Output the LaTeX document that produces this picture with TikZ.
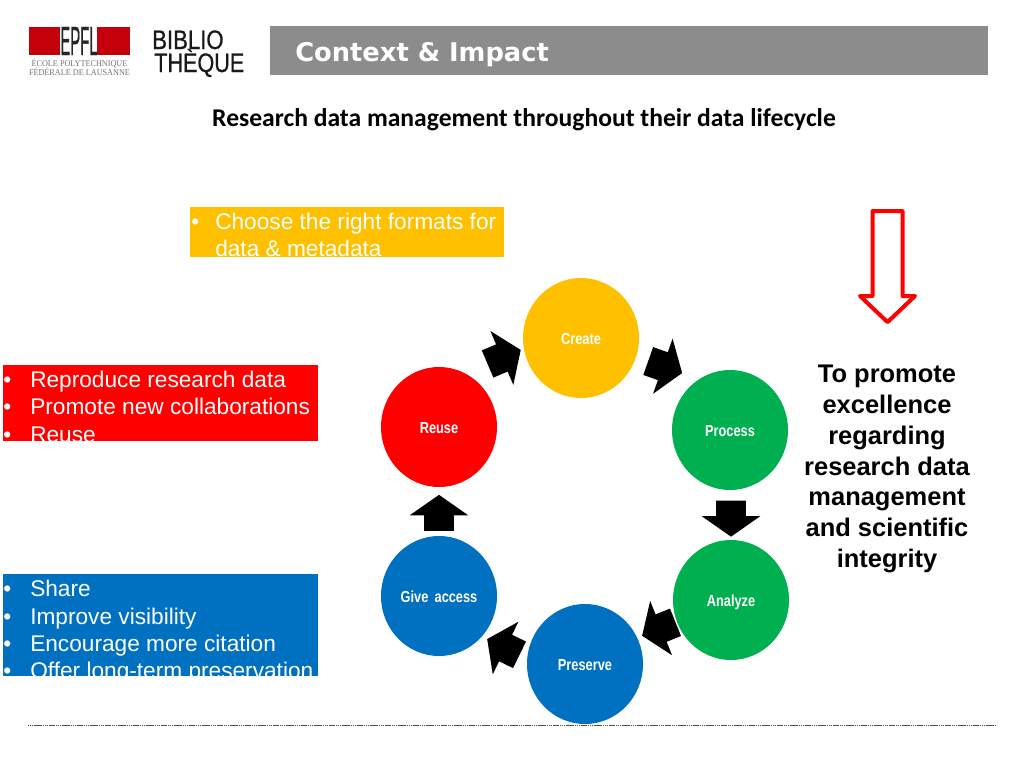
\documentclass[tikz,border=0pt]{standalone}
\usepackage{fontspec}
\usepackage{tikz}
\usetikzlibrary{shapes.arrows,shapes.geometric}
\setmainfont{Liberation Sans}
\newfontfamily\headfont{DejaVu Sans}
\newfontfamily\titlefont{Carlito}
\newfontfamily\logofont[FakeBold=0.8]{Liberation Sans}
\newfontfamily\narrowfont[FakeStretch=0.8]{Liberation Sans}
\newfontfamily\serifnarrow[FakeStretch=0.93]{Liberation Serif}
\definecolor{epflred}{HTML}{C4000B}
\definecolor{headgray}{HTML}{8C8C8C}
\definecolor{stepyellow}{HTML}{FFC000}
\definecolor{stepgreen}{HTML}{00B050}
\definecolor{stepblue}{HTML}{0070C0}
\tikzset{
  stepnode/.style={ellipse,minimum width=116*0.75pt,minimum height=120*0.75pt,inner sep=0pt,text=white,text height=10.5pt,text depth=1pt,font=\narrowfont\bfseries\fontsize{12}{14}\selectfont},
  panel/.style={anchor=north west,inner sep=0pt,outer sep=0pt},
  line/.style={anchor=base west,inner sep=0pt,text=white,font=\fontsize{17}{20}\selectfont},
  blockarrow/.style={single arrow,fill=black,inner sep=0pt,text height=29*0.75pt,text depth=0pt,minimum height=36*0.75pt,minimum width=58*0.75pt,single arrow head extend=14.5*0.75pt,single arrow tip angle=110},
}
\begin{document}
\begin{tikzpicture}[x=0.75pt,y=-0.75pt]
\useasboundingbox (0,0) rectangle (1024,768);
% logos
\fill [epflred] (29,27) rectangle (130,55);
\fill [white] (60,27) rectangle (97,55);
\node (epfl) [inner sep=0pt,text=black!85] at (79,41) {\scalebox{0.62}[1.7]{\logofont\fontsize{18}{18}\selectfont EPFL}};
\node (epflone) [inner sep=0pt,text=black!55] at (79.5,63) {\serifnarrow\fontsize{6.6}{7}\selectfont ÉCOLE POLYTECHNIQUE};
\node (epfltwo) [inner sep=0pt,text=black!55] at (79.5,72) {\serifnarrow\fontsize{6.6}{7}\selectfont FÉDÉRALE DE LAUSANNE};
\node (biblio) [anchor=base west,inner sep=0pt,text=black!90] at (152,49) {\scalebox{0.83}[1]{\logofont\fontsize{20}{20}\selectfont BIBLIO}};
\node (theque) [anchor=base west,inner sep=0pt,text=black!90] at (154,72) {\scalebox{0.81}[1]{\logofont\fontsize{20}{20}\selectfont THÈQUE}};
% header
\fill [headgray] (270,26) rectangle (988,75);
\node (head) [anchor=base west,inner sep=0pt,text=white] at (295,61) {\headfont\bfseries\fontsize{19.3}{20}\selectfont Context \& Impact};
\node (title) [inner sep=0pt] at (524,120) {\titlefont\bfseries\fontsize{19.2}{20}\selectfont Research data management throughout their data lifecycle};
% left boxes
\node (yellowbox) [panel,fill=stepyellow,minimum width=314*0.75pt,minimum height=50*0.75pt] at (190,207) {};
\node (bulleta) [line] at (191,229) {•};
\node (yellowa) [line] at (215,229) {Choose the right formats for};
\node (yellowb) [line] at (215,256) {data \& metadata};
\node (redbox) [panel,fill=red,minimum width=315*0.75pt,minimum height=76*0.75pt] at (3,365) {};
\node (bulletb) [line] at (3,387) {•};
\node (reda) [line] at (30,387) {Reproduce research data};
\node (bulletc) [line] at (3,414) {•};
\node (redb) [line] at (30,414) {Promote new collaborations};
\node (bulletd) [line] at (3,442) {•};
\node (redc) [line] at (30,442) {Reuse};
\node (bluebox) [panel,fill=stepblue,minimum width=315*0.75pt,minimum height=102*0.75pt] at (3,574) {};
\node (bullete) [line] at (3,596) {•};
\node (bluea) [line] at (30,596) {Share};
\node (bulletf) [line] at (3,624) {•};
\node (blueb) [line] at (30,624) {Improve visibility};
\node (bulletg) [line] at (3,651) {•};
\node (bluec) [line] at (30,651) {Encourage more citation};
\node (bulleth) [line] at (3,678) {•};
\node (blued) [line] at (30,678) {Offer long-term preservation};
% cycle
\node (create) [stepnode,fill=stepyellow] at (581,338) {Create};
\node (process) [stepnode,fill=stepgreen] at (730,430) {Process};
\node (analyze) [stepnode,fill=stepgreen] at (731,600) {Analyze};
\node (preserve) [stepnode,fill=stepblue] at (585,664) {Preserve};
\node (access) [stepnode,fill=stepblue] at (439,596) {Give\, access};
\node (reuse) [stepnode,fill=red] at (439,427) {Reuse};
\node (arrowa) [blockarrow,rotate=-19.5] at (660.3,365.3) {};
\node (arrowb) [blockarrow,rotate=-90] at (731,513.5) {};
\node (arrowc) [blockarrow,rotate=202] at (663.6,627.1) {};
\node (arrowd) [blockarrow,rotate=154] at (508,649.2) {};
\node (arrowe) [blockarrow,rotate=90] at (439,518) {};
\node (arrowf) [blockarrow,rotate=23] at (499.4,359) {};
% right side
\node (bigarrow) [single arrow,draw=red,fill=white,line width=3pt,line join=round,inner sep=0pt,text height=26*0.75pt,text depth=0pt,rotate=-90,minimum height=111*0.75pt,minimum width=51*0.75pt,single arrow head extend=12.5*0.75pt,single arrow tip angle=93] at (887.5,259.5) {};
\node (goal) [align=center,inner sep=0pt,font=\bfseries\fontsize{19.1}{23.1}\selectfont] at (887,469) {To promote\\excellence\\regarding\\research data\\management\\and scientific\\integrity};
% footer rule
\coordinate (rulea) at (28,725);
\coordinate (ruleb) at (996,725);
\draw [black!70,line width=0.5pt,dash pattern=on 1pt off 0.4pt] (rulea) -- (ruleb);
\end{tikzpicture}
\end{document}
